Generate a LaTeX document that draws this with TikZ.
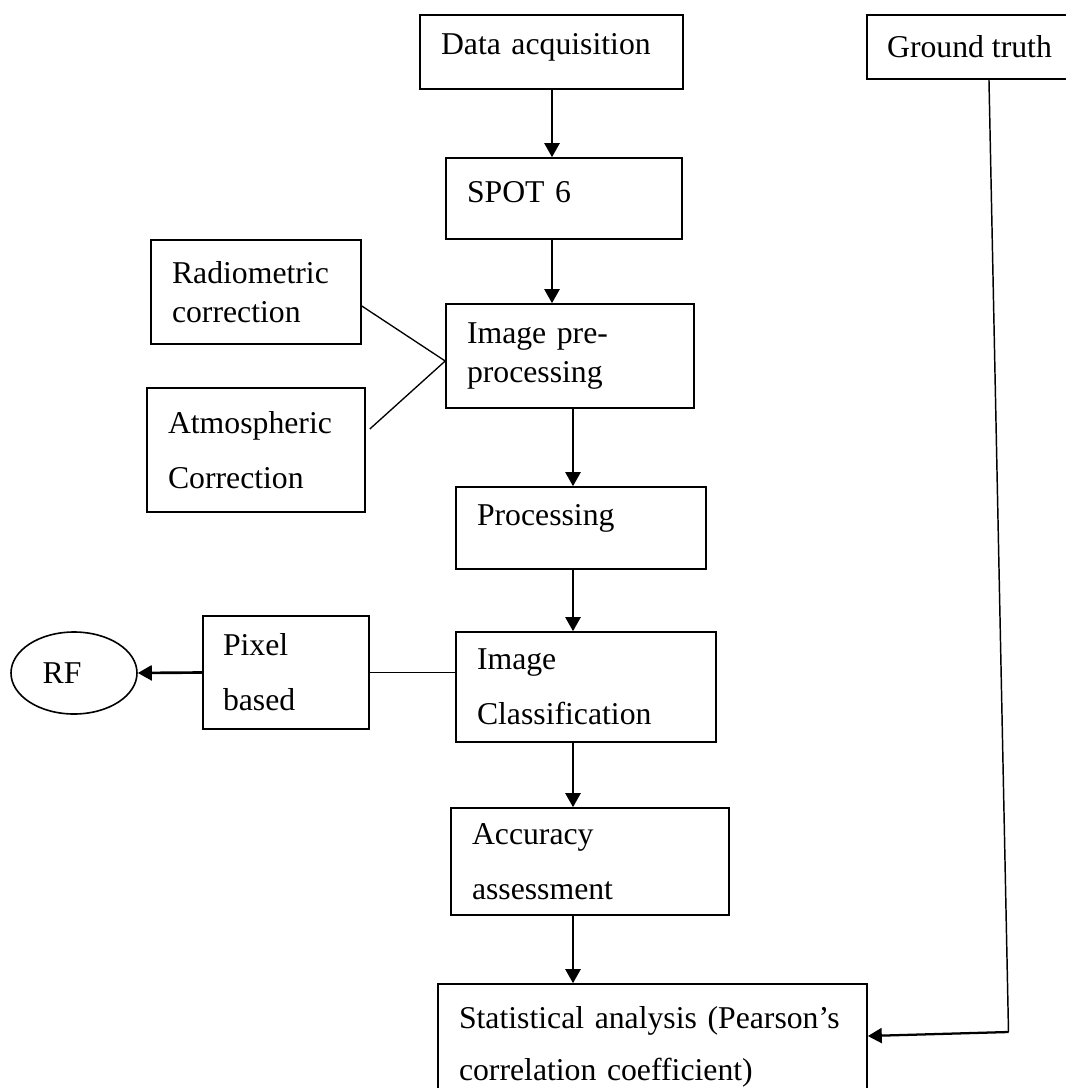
\documentclass[tikz,border=0pt]{standalone}
\usepackage{fontspec}
\setmainfont{Liberation Serif}
\usetikzlibrary{arrows.meta,shapes.geometric}
\tikzset{
  bx/.style={draw, line width=1.2pt, rectangle, align=left, inner xsep=15.75pt, inner ysep=0pt,
    font=\fontsize{23.8pt}{29.6pt}\selectfont},
  wide/.style={font=\fontsize{23.8pt}{41.3pt}\selectfont},
  arr/.style={line width=1.7pt, -{Triangle[length=10.5pt,width=11.25pt]}},
  link/.style={line width=1pt},
}
\begin{document}
\begin{tikzpicture}[x=0.75pt, y=-0.75pt]
\useasboundingbox (0,0) rectangle (1066,1088);
\clip (0,0) rectangle (1066,1088);

\node[bx, minimum width=197.25pt, minimum height=55.5pt, text width=165.75pt, text depth=12pt] (data) at (551.5,52) {Data acquisition};
\node[bx, align=center, inner xsep=0pt, minimum width=153.75pt, minimum height=48pt] (ground) at (969.5,47) {Ground truth};
\node[bx, minimum width=177pt, minimum height=60.75pt, text width=145.5pt, text depth=9.75pt] (spot) at (564,198.5) {SPOT 6};
\node[bx, minimum width=157.5pt, minimum height=78pt, text width=126pt] (radio) at (256,292) {Radiometric\\correction};
\node[bx, minimum width=186pt, minimum height=78pt, text width=154.5pt] (pre) at (570,356) {Image pre-\\processing};
\node[bx, wide, minimum width=163.5pt, minimum height=93pt, text width=132pt] (atmos) at (256,450) {Atmospheric\\Correction};
\node[bx, minimum width=187.5pt, minimum height=61.5pt, text width=156pt, text depth=20pt] (proc) at (581,528) {Processing};
\node[draw, ellipse, line width=1.2pt, minimum width=94.5pt, minimum height=61.5pt, inner sep=0pt,
  font=\fontsize{23.8pt}{29.6pt}\selectfont] (rf) at (74,673) {\hspace*{-18pt}RF};
\node[bx, wide, inner xsep=15pt, minimum width=124.5pt, minimum height=84.75pt, text width=94.5pt] (pixel) at (286,672.5) {Pixel\\based};
\node[bx, wide, minimum width=195pt, minimum height=82.5pt, text width=163.5pt] (class) at (586,687) {Image\\Classification};
\node[bx, wide, minimum width=208.5pt, minimum height=80.25pt, text width=177pt] (acc) at (590,861.5) {Accuracy\\assessment};
\node[bx, font=\fontsize{23.8pt}{39pt}\selectfont, minimum width=321.75pt, minimum height=94.5pt, text width=290.25pt] (stat) at (652.5,1047)
  {\makebox[289.5pt][s]{Statistical analysis (Pearson’s}\\correlation coefficient)};

\coordinate (colA) at (552,0);
\coordinate (colB) at (573,0);
\draw[arr] (data.south -| colA) -- (spot.north -| colA);
\draw[arr] (spot.south -| colA) -- (pre.north -| colA);
\draw[arr] (pre.south -| colB) -- (proc.north -| colB);
\draw[arr] (proc.south -| colB) -- (class.north -| colB);
\draw[arr] (class.south -| colB) -- (acc.north -| colB);
\draw[arr] (acc.south -| colB) -- (stat.north -| colB);

\coordinate (jn) at ([yshift=-3.75pt]pre.west);
\draw[link] ([yshift=-10.5pt]radio.east) -- (jn);
\draw[link] ([xshift=3pt,yshift=15.75pt]atmos.east) -- (jn);
\draw[link] (pixel.east) -- (pixel.east -| class.west);
\draw[arr, line width=2pt] (pixel.west) -- (rf.east);

\coordinate (gt) at ([xshift=14.6pt]ground.south);
\coordinate (turn) at (1008.5,1032);
\draw[line width=1.1pt] (gt) -- (turn);
\draw[arr] (turn) -- ([yshift=8.25pt]stat.east);
\end{tikzpicture}
\end{document}
